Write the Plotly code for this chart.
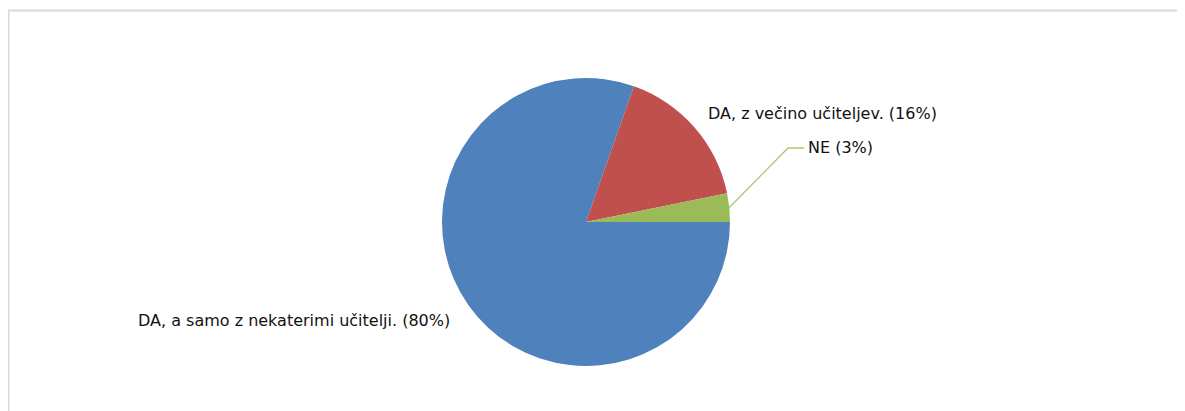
import math
import plotly.graph_objects as go

categories = ["DA, a samo z nekaterimi učitelji.", "DA, z večino učiteljev.", "NE"]
values = [80.4, 16.4, 3.2]
colors = ["#4F81BD", "#C0504D", "#9BBB59"]

# page has an 8px body margin, so figure is sized to fit the window
W, H = 1177, 403
CX, CY, R = 578, 214, 144

def px(x):
    return x / W

def py(y):
    return 1 - y / H

labels_text = [f"{c} ({round(v)}%)" for c, v in zip(categories, values)]

fig = go.Figure()
fig.add_trace(go.Pie(
    labels=categories,
    values=values,
    marker=dict(colors=colors, line=dict(width=0)),
    sort=False,
    direction="clockwise",
    rotation=90,
    textinfo="none",
    hoverinfo="label+percent",
    showlegend=False,
    domain=dict(x=[px(CX - R), px(CX + R)], y=[py(CY + R), py(CY - R)]),
))

font = dict(family="DejaVu Sans, Verdana, sans-serif", size=16, color="#111111")

# label positions (pixel, left edge / vertical centre)
label_pos = [(128, 312), (698, 105), (798, 140)]
annotations = []
for txt, (lx, ly) in zip(labels_text, label_pos):
    annotations.append(dict(
        text=txt, x=px(lx), y=py(ly), xref="paper", yref="paper",
        xanchor="left", yanchor="middle", showarrow=False, font=font,
    ))

# leader line for the small NE slice, anchored at its mid-angle on the rim
total = sum(values)
mid_deg = (values[2] / total * 360) / 2
ax = CX + R * math.cos(math.radians(mid_deg))
ay = CY - R * math.sin(math.radians(mid_deg))
path = f"M {px(ax)} {py(ay)} L {px(780)} {py(140)} L {px(796)} {py(140)}"

shapes = [
    dict(type="path", xref="paper", yref="paper", path=path,
         line=dict(color="#A9C772", width=1.3)),
    # chart container border (top and left)
    dict(type="line", xref="paper", yref="paper", x0=0, x1=1, y0=py(2.5), y1=py(2.5),
         line=dict(color="#DADADA", width=2)),
    dict(type="line", xref="paper", yref="paper", x0=px(0.5), x1=px(0.5), y0=py(2.5), y1=0,
         line=dict(color="#DADADA", width=2)),
]

fig.update_layout(
    width=W, height=H,
    margin=dict(l=0, r=0, t=0, b=0),
    paper_bgcolor="white",
    plot_bgcolor="white",
    annotations=annotations,
    shapes=shapes,
)

fig.write_html("out.html")
